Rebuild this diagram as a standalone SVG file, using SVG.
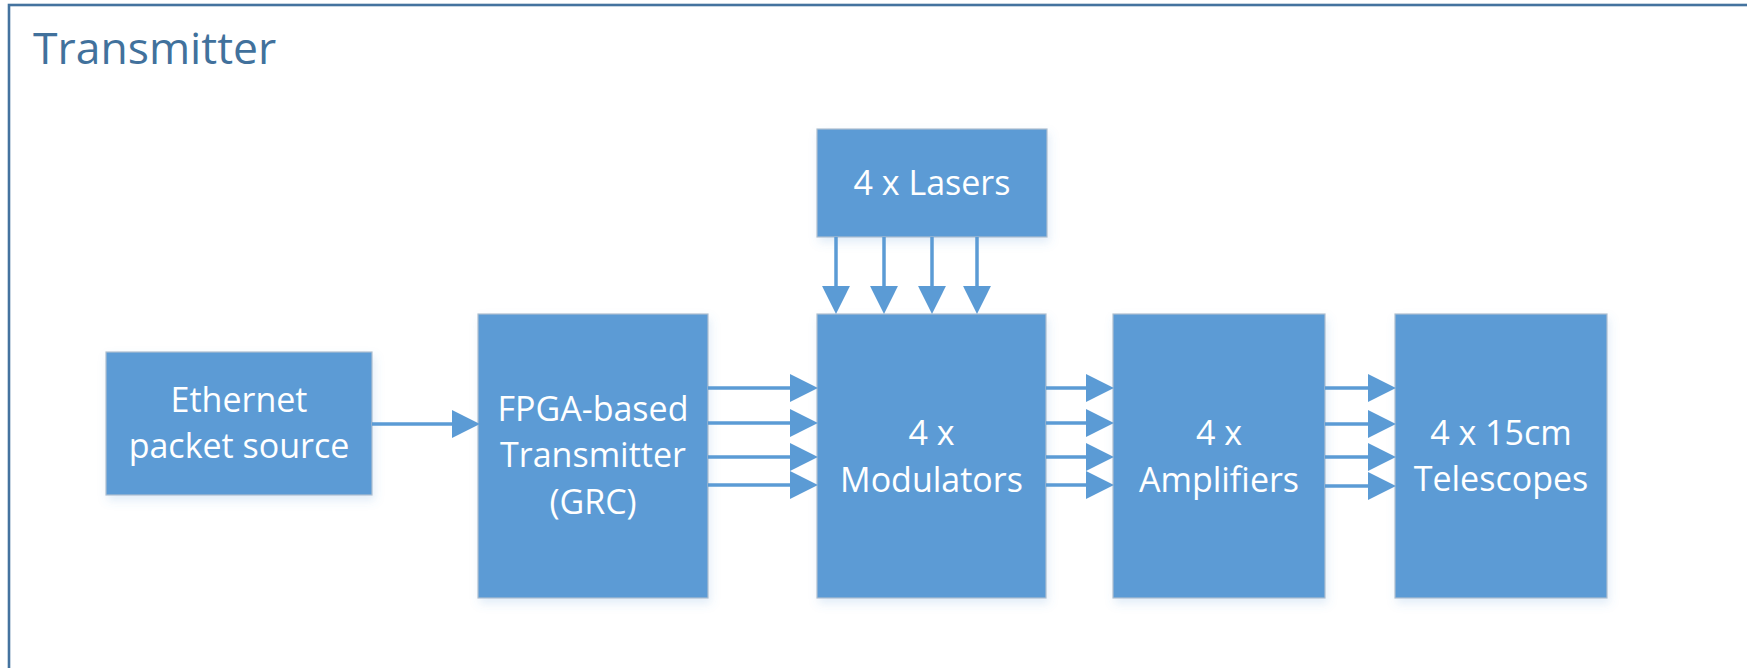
<svg xmlns="http://www.w3.org/2000/svg" width="1747" height="668" viewBox="0 0 1747 668">
<style>
.frame{fill:none;stroke:#44739F;stroke-width:2.6}
.title{font-family:"Open Sans","Liberation Sans",sans-serif;font-size:44.5px;fill:#41719C}
.box{fill:#5B9BD5;stroke:#AEBFD0;stroke-width:1.2;filter:url(#sh)}
.lbl{font-family:"Open Sans","Liberation Sans",sans-serif;font-size:34px;fill:#FFFFFF;text-anchor:middle}
.conn line{stroke:#5B9BD5;stroke-width:3.5;marker-end:url(#ah)}
</style>
<defs>
<filter id="sh" x="-10%" y="-10%" width="125%" height="125%">
<feDropShadow dx="2" dy="5" stdDeviation="5" flood-color="#5B9BD5" flood-opacity="0.18"/>
</filter>
<marker id="ah" markerUnits="userSpaceOnUse" markerWidth="28" markerHeight="28" refX="2" refY="13.5" orient="auto" viewBox="0 0 27 27">
<path d="M0,0 L27,13.5 L0,27 Z" fill="#5B9BD5"/>
</marker>
</defs>
<rect width="1747" height="668" fill="#FFFFFF"/>
<rect class="frame" x="9" y="5" width="1780" height="700"/>
<text class="title" x="33" y="64">Transmitter</text>

<g id="ethernet">
<rect class="box" x="106" y="352" width="266" height="143"/>
<text class="lbl" x="239" y="412">Ethernet</text>
<text class="lbl" x="239" y="458">packet source</text>
</g>
<g id="fpga">
<rect class="box" x="478" y="314" width="230" height="284"/>
<text class="lbl" x="593" y="421">FPGA-based</text>
<text class="lbl" x="593" y="467">Transmitter</text>
<text class="lbl" x="593" y="514">(GRC)</text>
</g>
<g id="lasers">
<rect class="box" x="817" y="129" width="230" height="108"/>
<text class="lbl" x="932" y="195">4 x Lasers</text>
</g>
<g id="modulators">
<rect class="box" x="817" y="314" width="229" height="284"/>
<text class="lbl" x="931.5" y="445">4 x</text>
<text class="lbl" x="931.5" y="492">Modulators</text>
</g>
<g id="amplifiers">
<rect class="box" x="1113" y="314" width="212" height="284"/>
<text class="lbl" x="1219" y="445">4 x</text>
<text class="lbl" x="1219" y="492">Amplifiers</text>
</g>
<g id="telescopes">
<rect class="box" x="1395" y="314" width="212" height="284"/>
<text class="lbl" x="1501" y="445">4 x 15cm</text>
<text class="lbl" x="1501" y="491">Telescopes</text>
</g>

<g id="connectors" class="conn">
<line x1="372" y1="424" x2="454" y2="424"/>
<line x1="708" y1="388" x2="792" y2="388"/>
<line x1="708" y1="423" x2="792" y2="423"/>
<line x1="708" y1="457" x2="792" y2="457"/>
<line x1="708" y1="485" x2="792" y2="485"/>
<line x1="836" y1="237" x2="836" y2="288"/>
<line x1="884" y1="237" x2="884" y2="288"/>
<line x1="932" y1="237" x2="932" y2="288"/>
<line x1="977" y1="237" x2="977" y2="288"/>
<line x1="1046" y1="388" x2="1088" y2="388"/>
<line x1="1046" y1="423" x2="1088" y2="423"/>
<line x1="1046" y1="457" x2="1088" y2="457"/>
<line x1="1046" y1="485" x2="1088" y2="485"/>
<line x1="1325" y1="388" x2="1370" y2="388"/>
<line x1="1325" y1="424" x2="1370" y2="424"/>
<line x1="1325" y1="457" x2="1370" y2="457"/>
<line x1="1325" y1="486" x2="1370" y2="486"/>
</g>
</svg>
